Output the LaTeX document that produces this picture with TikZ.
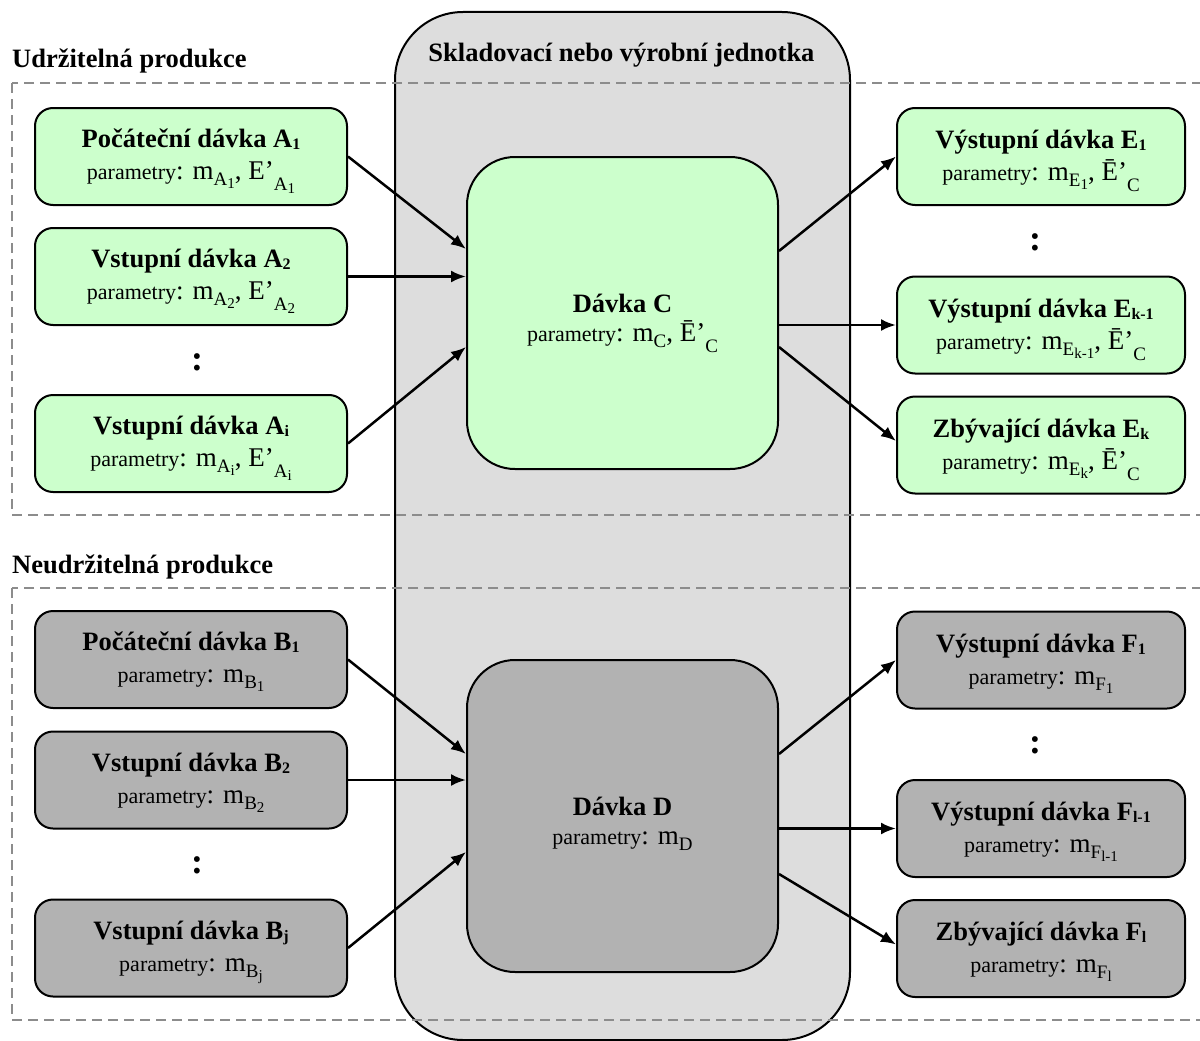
\documentclass[tikz,border=0pt]{standalone}
\usepackage{fontspec}
\setmainfont{Liberation Serif}
\usetikzlibrary{arrows.meta,calc}

\definecolor{sustain}{RGB}{204,255,204}
\definecolor{unsustain}{RGB}{178,178,178}
\definecolor{unitgray}{RGB}{221,221,221}
\definecolor{zonegray}{RGB}{140,140,140}

% text sizes
\newcommand\ttl{\fontsize{26.5}{30}\selectfont\bfseries}
\newcommand\tsub[1]{\raisebox{-2pt}{\fontsize{16}{18}\selectfont\bfseries #1}}
\newcommand\prm{\fontsize{22}{24}\selectfont}
\newcommand\pbig{\fontsize{27}{30}\selectfont}
\newcommand\lowA[1]{\raisebox{-6pt}{\fontsize{19}{20}\selectfont #1}}
\newcommand\lowB[1]{\raisebox{-3pt}{\fontsize{15}{16}\selectfont #1}}
\newcommand\lowP[1]{\raisebox{-11pt}{\fontsize{19}{20}\selectfont #1}}
\newcommand\dotsfont{\fontsize{36}{40}\selectfont\bfseries}

% one batch: name, style, position, title, parameters, title offset, parameter offset
\newcommand\batch[7]{%
  \node[#2] (#1) at (#3) {};
  \node[txt] (#1-t) at ($(#1.center)+(0,#6)$) {\ttl #4};
  \node[txt] (#1-p) at ($(#1.center)+(0,#7)$) {#5};
}

\begin{document}
\begin{tikzpicture}[x=1pt, y=-1pt,
  batchbox/.style={draw, line width=2pt, rounded corners=18pt, minimum width=312pt, minimum height=97pt, inner sep=0pt},
  outbox/.style={batchbox, minimum width=288pt},
  corebox/.style={draw, line width=2pt, rounded corners=48pt, minimum width=311pt, minimum height=312pt, inner sep=0pt},
  sus/.style={fill=sustain},
  unsus/.style={fill=unsustain},
  txt/.style={anchor=base, inner sep=0pt},
  flow/.style={line width=2.5pt, -{Latex[length=15pt,width=12pt]}},
  zoneframe/.style={draw=zonegray, line width=2pt, dash pattern=on 10pt off 6pt},
]
\useasboundingbox (0,0) rectangle (1200,1041);

% storage or production unit
\node[draw, fill=unitgray, line width=2pt, rounded corners=68pt,
      minimum width=455pt, minimum height=1028pt, inner sep=0pt] (unit) at (622.5,526) {};
\node[txt] (unit-t) at (621.5,62) {\ttl Skladovací nebo výrobní jednotka};

% production zones
\draw[zoneframe] (12,83) rectangle (1215,515);
\draw[zoneframe] (12,588) rectangle (1215,1020);
\node[anchor=base west, inner sep=0pt] (sus-t) at (12,68) {\ttl Udržitelná produkce};
\node[anchor=base west, inner sep=0pt] (unsus-t) at (12,573) {\ttl Neudržitelná produkce};

% central batches
\batch{c}{corebox,sus}{622.5,313}{Dávka C}
  {{\prm parametry}{\pbig: m\lowA{C}, Ē’\lowP{C}}}{-1}{28}
\batch{d}{corebox,unsus}{622.5,816}{Dávka D}
  {{\prm parametry}{\pbig: m\lowA{D}}}{-1}{28}

% sustainable inputs
\batch{a1}{batchbox,sus}{191,156.5}{Počáteční dávka A\tsub{1}}
  {{\prm parametry}{\pbig: m\lowA{A\lowB{1}}, E’\lowP{A\lowB{1}}}}{-9}{23}
\batch{a2}{batchbox,sus}{191,276.5}{Vstupní dávka A\tsub{2}}
  {{\prm parametry}{\pbig: m\lowA{A\lowB{2}}, E’\lowP{A\lowB{2}}}}{-9}{23}
\batch{ai}{batchbox,sus}{191,443.5}{Vstupní dávka A\tsub{i}}
  {{\prm parametry}{\pbig: m\lowA{A\lowB{i}}, E’\lowP{A\lowB{i}}}}{-9}{23}
\node[inner sep=0pt] (adots) at (197,362) {\dotsfont :};

% sustainable outputs
\batch{e1}{outbox,sus}{1041,156.5}{Výstupní dávka E\tsub{1}}
  {{\prm parametry}{\pbig: m\lowA{E\lowB{1}}, Ē’\lowP{C}}}{-8}{24}
\batch{ek1}{outbox,sus}{1041,325}{Výstupní dávka E\tsub{k-1}}
  {{\prm parametry}{\pbig: m\lowA{E\lowB{k-1}}, Ē’\lowP{C}}}{-8}{24}
\batch{ek}{outbox,sus}{1041,445}{Zbývající dávka E\tsub{k}}
  {{\prm parametry}{\pbig: m\lowA{E\lowB{k}}, Ē’\lowP{C}}}{-8}{24}
\node[inner sep=0pt] (edots) at (1035,242) {\dotsfont :};

% unsustainable inputs
\batch{b1}{batchbox,unsus}{191,659.5}{Počáteční dávka B\tsub{1}}
  {{\prm parametry}{\pbig: m\lowA{B\lowB{1}}}}{-9}{23}
\batch{b2}{batchbox,unsus}{191,780}{Vstupní dávka B\tsub{2}}
  {{\prm parametry}{\pbig: m\lowA{B\lowB{2}}}}{-9}{23}
\batch{bj}{batchbox,unsus}{191,948}{Vstupní dávka B\tsub{j}}
  {{\prm parametry}{\pbig: m\lowA{B\lowB{j}}}}{-9}{23}
\node[inner sep=0pt] (bdots) at (197,865) {\dotsfont :};

% unsustainable outputs
\batch{f1}{outbox,unsus}{1041,660}{Výstupní dávka F\tsub{1}}
  {{\prm parametry}{\pbig: m\lowA{F\lowB{1}}}}{-8}{24}
\batch{fl1}{outbox,unsus}{1041,828.5}{Výstupní dávka F\tsub{l-1}}
  {{\prm parametry}{\pbig: m\lowA{F\lowB{l-1}}}}{-8}{24}
\batch{fl}{outbox,unsus}{1041,948.5}{Zbývající dávka F\tsub{l}}
  {{\prm parametry}{\pbig: m\lowA{F\lowB{l}}}}{-8}{24}
\node[inner sep=0pt] (fdots) at (1035,745) {\dotsfont :};

% flows into and out of batch C
\draw[flow] (a1.east) -- ($(c.north west)+(0,93)$);
\draw[flow] (a2.east) -- (a2.east -| c.west);
\draw[flow] (ai.east) -- ($(c.north west)+(0,191)$);
\draw[flow] ($(c.north east)+(0,95)$) -- (e1.west);
\draw[flow] (ek1.west -| c.east) -- (ek1.west);
\draw[flow] ($(c.north east)+(0,191)$) -- ($(ek.west)+(0,-4)$);

% flows into and out of batch D
\draw[flow] (b1.east) -- ($(d.north west)+(0,95)$);
\draw[flow] (b2.east) -- (b2.east -| d.west);
\draw[flow] (bj.east) -- ($(d.north west)+(0,193)$);
\draw[flow] ($(d.north east)+(0,95)$) -- (f1.west);
\draw[flow] (fl1.west -| d.east) -- (fl1.west);
\draw[flow] ($(d.north east)+(0,215)$) -- ($(fl.west)+(0,-4)$);
\end{tikzpicture}
\end{document}
